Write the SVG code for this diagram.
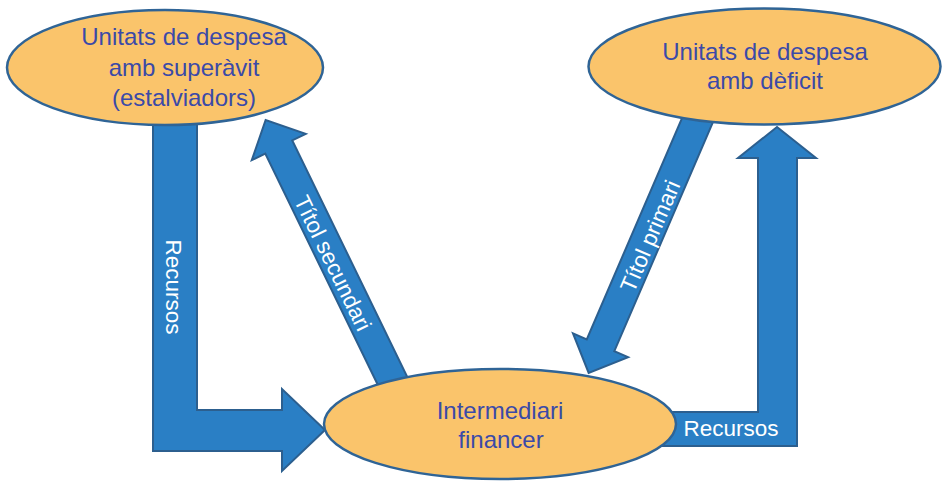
<svg xmlns="http://www.w3.org/2000/svg" width="942" height="482" viewBox="0 0 942 482">
<style>
.arrow{fill:#2a7fc5;stroke:#2c5f8f;stroke-width:2;stroke-linejoin:miter}
.node{fill:#fac46b;stroke:#2f6496;stroke-width:2.5}
.nt{font-family:"Liberation Sans",Arial,sans-serif;font-size:24px;fill:#3b4aa8;text-anchor:middle}
.at{font-family:"Liberation Sans",Arial,sans-serif;font-size:22.5px;fill:#ffffff;text-anchor:middle}
</style>
<rect width="942" height="482" fill="#ffffff"/>
<g id="connectors">
  <path class="arrow" d="M153,118 L197,118 L197,410 L282,410 L282,389 L325,430 L282,471 L282,451 L153,451 Z"/>
  <path class="arrow" d="M660,412 L758,412 L758,158 L738,158 L777,127 L816,158 L797,158 L797,446 L660,446 Z"/>
  <g transform="translate(396,388) rotate(-115.94)">
    <polygon class="arrow" points="0,-15 268,-15 268,-30 298,0 268,30 268,15 0,15"/>
  </g>
  <g transform="translate(701,112) rotate(113.3)">
    <polygon class="arrow" points="0,-15 254,-15 254,-30 284,0 254,30 254,15 0,15"/>
  </g>
  <text class="at" transform="translate(166,287) rotate(90)" x="0" y="0">Recursos</text>
  <text class="at" transform="translate(333,263) rotate(64.06)" x="0" y="8">Títol secundari</text>
  <text class="at" transform="translate(650,236) rotate(-66.7)" x="0" y="8">Títol primari</text>
  <text class="at" x="731" y="436">Recursos</text>
</g>
<g id="node-superavit">
  <ellipse class="node" cx="165" cy="67.5" rx="158" ry="57.5"/>
  <text class="nt" x="184" y="45">Unitats de despesa</text>
  <text class="nt" x="184" y="76">amb superàvit</text>
  <text class="nt" x="184" y="106">(estalviadors)</text>
</g>
<g id="node-deficit">
  <ellipse class="node" cx="764.5" cy="66.5" rx="176" ry="58"/>
  <text class="nt" x="765" y="60">Unitats de despesa</text>
  <text class="nt" x="765" y="89">amb dèficit</text>
</g>
<g id="node-intermediari">
  <ellipse class="node" cx="500" cy="424" rx="176" ry="55"/>
  <text class="nt" x="500" y="419">Intermediari</text>
  <text class="nt" x="501" y="448">financer</text>
</g>
</svg>
